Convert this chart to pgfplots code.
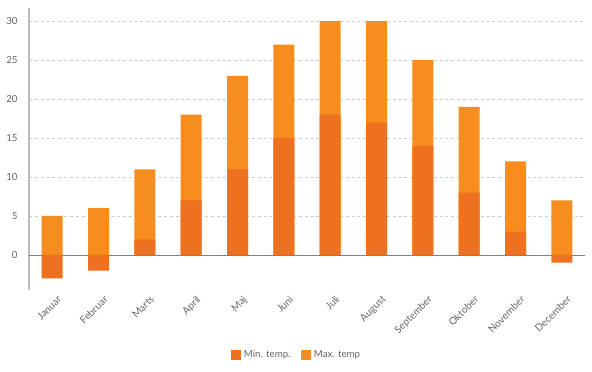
\documentclass[border=0pt]{standalone}
\usepackage{fontspec}
\setmainfont{Lato}
\usepackage{pgfplots}
\pgfplotsset{compat=1.18}
\definecolor{minc}{HTML}{EE7120}
\definecolor{maxc}{HTML}{F78D1E}
\definecolor{txt}{HTML}{666666}
\definecolor{gridc}{HTML}{CCCCCC}
\definecolor{axc}{HTML}{BBBBBB}
\begin{document}
\begin{tikzpicture}
\begin{axis}[name=ax, scale only axis, width=417pt, height=211.5pt,
  xmin=-0.5, xmax=11.5, ymin=-4.5, ymax=31.7,
  ybar, bar width=15.75pt,
  axis lines*=left,
  x axis line style={draw=none},
  y axis line style={draw=axc, line width=0.8pt},
  /pgf/number format/assume math mode=true,
  ytick={0,5,...,30},
  ymajorgrids,
  grid style={dashed, dash pattern=on 2.2pt off 2.2pt, draw=gridc, line width=0.5pt},
  extra y ticks={0}, extra y tick labels={},
  extra y tick style={major grid style={solid, draw=gray, line width=0.6pt}},
  major tick length=0pt,
  xtick={0,...,11},
  xticklabels={Januar,Februar,Marts,April,Maj,Juni,Juli,August,September,Oktober,November,December},
  x tick label style={rotate=45, anchor=north east, font=\fontsize{7.6}{9}\selectfont, text=txt, inner sep=1pt, xshift=1pt, yshift=-4pt},
  y tick label style={anchor=east, xshift=-5pt, font=\fontsize{7.3}{9}\selectfont, text=txt},
  legend style={at={(0.482,-0.23)}, anchor=center, draw=none, fill=none, legend columns=2,
    font=\fontsize{7.3}{9}\selectfont, text=txt,
    /tikz/every even column/.append style={column sep=6pt}},
  legend image code/.code={\fill[#1] (0pt,-3.75pt) rectangle (7.5pt,3.75pt);},
]
\addplot[fill=maxc, draw=none, bar shift=0pt, forget plot] coordinates {
(0,5) (1,6) (2,11) (3,18) (4,23) (5,27) (6,30) (7,30) (8,25) (9,19) (10,12) (11,7)};
\addplot[fill=minc, draw=none, bar shift=0pt] coordinates {
(0,-3) (1,-2) (2,2) (3,7) (4,11) (5,15) (6,18) (7,17) (8,14) (9,8) (10,3) (11,-1)};
\addlegendimage{fill=maxc, draw=none}
\legend{Min. temp., Max. temp}
\end{axis}
\pgfresetboundingbox
\path ([xshift=-21.75pt,yshift=-60.75pt]ax.south west) rectangle ([xshift=5.25pt,yshift=6pt]ax.north east);
\end{tikzpicture}
\end{document}
